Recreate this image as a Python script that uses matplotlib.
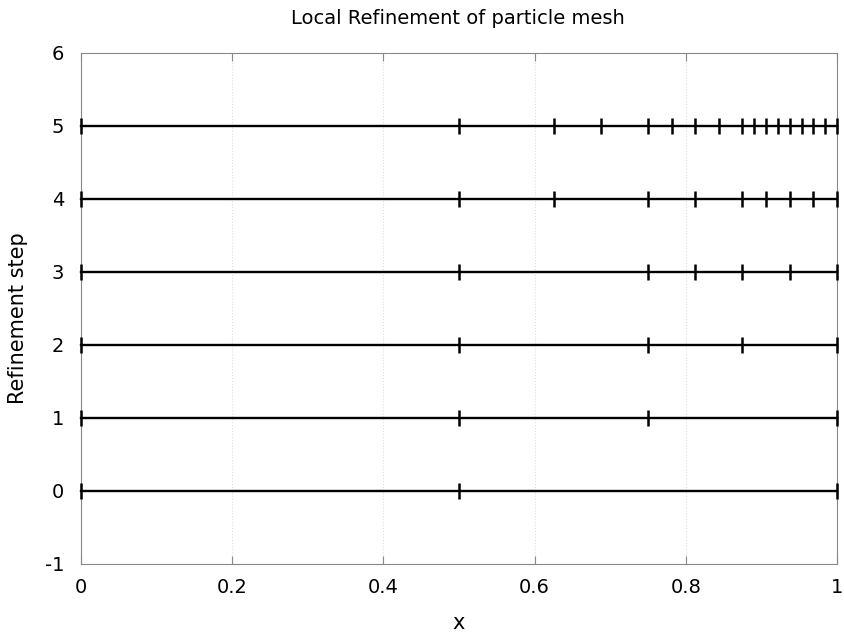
import matplotlib
matplotlib.use('Agg')
import matplotlib.pyplot as plt

# particle positions at each refinement step
steps = [0, 1, 2, 3, 4, 5]
positions = [
    [0, 0.5, 1],
    [0, 0.5, 0.75, 1],
    [0, 0.5, 0.75, 0.875, 1],
    [0, 0.5, 0.75, 0.8125, 0.875, 0.9375, 1],
    [0, 0.5, 0.625, 0.75, 0.8125, 0.875, 0.90625, 0.9375, 0.96875, 1],
    [0, 0.5, 0.625, 0.6875, 0.75, 0.78125, 0.8125, 0.84375, 0.875,
     0.890625, 0.90625, 0.921875, 0.9375, 0.953125, 0.96875, 0.984375, 1],
]
xticks = [0, 0.2, 0.4, 0.6, 0.8, 1]
xticklabels = ['0', '0.2', '0.4', '0.6', '0.8', '1']
yticks = [-1, 0, 1, 2, 3, 4, 5, 6]

fig = plt.figure(figsize=(8.44, 6.37), dpi=100)
ax = fig.add_axes([0.096, 0.1146, 0.8957, 0.8022])

for s, xs in zip(steps, positions):
    ax.plot(xs, [s] * len(xs), color='black', lw=1.7, marker='|',
            markersize=12, markeredgewidth=1.8, clip_on=False, zorder=3)

ax.set_xlim(0, 1)
ax.set_ylim(-1, 6)
ax.set_xticks(xticks)
ax.set_xticklabels(xticklabels)
ax.set_yticks(yticks)
ax.set_yticklabels([str(v) for v in yticks])

ax.grid(axis='x', color='#dddddd', linestyle=':', linewidth=0.8)
for sp in ax.spines.values():
    sp.set_color('#888888')
ax.tick_params(direction='in', top=True, right=True, length=6,
               color='#888888', labelsize=14)
ax.tick_params(axis='x', pad=10)
ax.tick_params(axis='y', length=0, pad=12)

fig.text(0.543, 1 - 18 / 637, 'Local Refinement of particle mesh',
         ha='center', va='center', fontsize=14)
fig.text(0.543, 1 - 623 / 637, 'x', ha='center', va='center', fontsize=15)
fig.text(18 / 844, 0.5, 'Refinement step', ha='center', va='center',
         rotation=90, fontsize=15)

fig.savefig('out.png', dpi=100)
